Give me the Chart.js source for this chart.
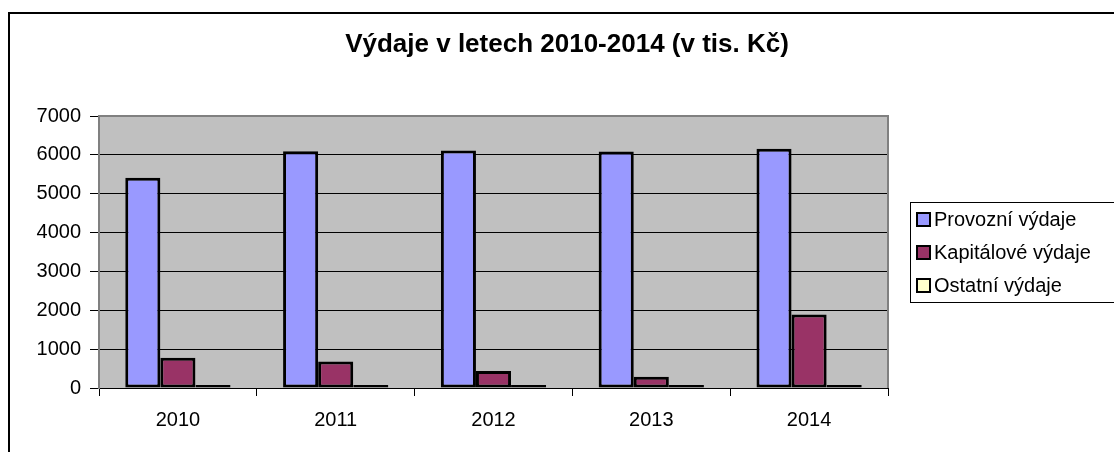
<!DOCTYPE html>
<html>
<head>
<meta charset="utf-8">
<script src="https://cdn.jsdelivr.net/npm/chart.js@4.4.0/dist/chart.umd.min.js"></script>
<style>
  html, body { margin: 0; padding: 0; background: #fff; }
  #wrap { width: 1114px; height: 452px; position: relative; }
</style>
</head>
<body>
<div id="wrap"><canvas id="chart"></canvas></div>
<script>
const years = ["2010", "2011", "2012", "2013", "2014"];
const provozni = [5410, 6090, 6110, 6085, 6160];
const kapitalove = [780, 680, 440, 290, 1890];
const ostatni = [50, 50, 50, 50, 50];
const seriesNames = ["Provozní výdaje", "Kapitálové výdaje", "Ostatní výdaje"];
const seriesColors = ["#9999FF", "#993366", "#FFFFCC"];
const yTicks = [0, 1000, 2000, 3000, 4000, 5000, 6000, 7000];
const chartTitle = "Výdaje v letech 2010-2014 (v tis. Kč)";

const FONT = "Arial, 'Liberation Sans', sans-serif";

// grey plot area, outer frame, title (centred on the whole frame) and boxed legend
const excelLook = {
  id: "excelLook",
  beforeDraw(chart) {
    const { ctx, chartArea: a } = chart;
    ctx.save();
    ctx.fillStyle = "#fff";
    ctx.fillRect(0, 0, chart.width, chart.height);
    ctx.strokeStyle = "#000";
    ctx.lineWidth = 2;
    ctx.beginPath();
    ctx.moveTo(9, chart.height + 5);
    ctx.lineTo(9, 13);
    ctx.lineTo(chart.width + 5, 13);
    ctx.stroke();
    ctx.fillStyle = "#C0C0C0";
    ctx.fillRect(a.left, a.top, a.right - a.left, a.bottom - a.top);

    ctx.fillStyle = "#000";
    ctx.font = "bold 26px " + FONT;
    ctx.textAlign = "center";
    ctx.textBaseline = "middle";
    ctx.fillText(chartTitle, 567, 45);
    ctx.restore();
  },
  afterDatasetsDraw(chart) {
    const { ctx, chartArea: a } = chart;
    ctx.save();
    ctx.strokeStyle = "#808080";
    ctx.lineWidth = 2;
    ctx.beginPath();
    ctx.moveTo(a.left, a.bottom);
    ctx.lineTo(a.left, a.top);
    ctx.lineTo(a.right, a.top);
    ctx.lineTo(a.right, a.bottom);
    ctx.stroke();

    // legend
    ctx.strokeStyle = "#000";
    ctx.lineWidth = 1;
    ctx.strokeRect(910.5, 202.5, 250, 100);
    ctx.font = "20px " + FONT;
    ctx.textBaseline = "middle";
    chart.data.datasets.forEach((ds, i) => {
      const y = 219 + i * 33;
      ctx.fillStyle = ds.backgroundColor;
      ctx.fillRect(917, y - 6, 13, 13);
      ctx.strokeStyle = "#000";
      ctx.lineWidth = 2;
      ctx.strokeRect(917, y - 6, 13, 13);
      ctx.fillStyle = "#000";
      ctx.fillText(ds.label, 934, y + 1);
    });
    ctx.restore();
  }
};

const datasets = [provozni, kapitalove, ostatni].map((vals, i) => ({
  label: seriesNames[i],
  data: vals,
  backgroundColor: seriesColors[i],
  borderColor: "#000",
  borderWidth: 3,
  borderSkipped: false,
  minBarLength: 3,
  categoryPercentage: 0.667,
  barPercentage: 1.0
}));

new Chart(document.getElementById("chart"), {
  type: "bar",
  data: { labels: years, datasets: datasets },
  options: {
    responsive: true,
    maintainAspectRatio: false,
    animation: false,
    layout: { padding: { left: 28, right: 226, top: 116, bottom: 8 } },
    plugins: {
      legend: { display: false },
      tooltip: { enabled: false },
      title: { display: false }
    },
    scales: {
      x: {
        grid: { display: true, drawOnChartArea: false, drawTicks: true, tickLength: 8, color: "#000", offset: true },
        border: { display: true, color: "#000", width: 1 },
        ticks: { color: "#000", font: { family: FONT, size: 20 }, padding: 12 }
      },
      y: {
        min: 0,
        max: 7000,
        afterFit(scale) { scale.width = 71; },
        afterBuildTicks(scale) { scale.ticks = yTicks.map(v => ({ value: v })); },
        grid: { color: "#000", lineWidth: 1, tickLength: 9, drawTicks: true },
        border: { display: true, color: "#808080", width: 2 },
        ticks: {
          color: "#000",
          font: { family: FONT, size: 20 },
          padding: 9,
          callback: v => String(v)
        }
      }
    }
  },
  plugins: [excelLook]
});
</script>
</body>
</html>
